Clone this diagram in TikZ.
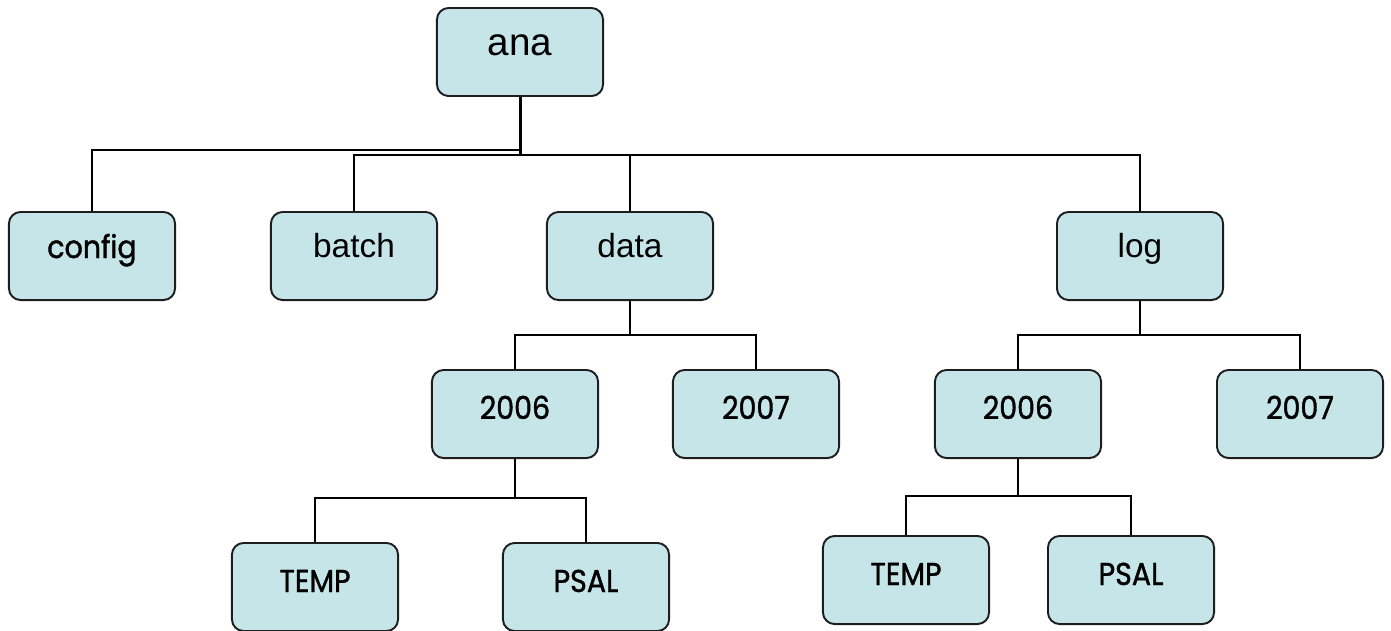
\documentclass[tikz,border=0pt]{standalone}
\usepackage{fontspec}
\setmainfont{Liberation Sans}
\newfontfamily\arialf{Liberation Sans}
\newfontfamily\futf[FakeBold=1.2,FakeStretch=0.9]{Poppins}
\definecolor{boxfill}{RGB}{197,229,232}
\definecolor{boxline}{RGB}{30,30,30}
\begin{document}
\begin{tikzpicture}[x=0.01cm,y=-0.01cm,
  bx/.style={draw=boxline, fill=boxfill, line width=0.55pt, rounded corners=3.3pt,
    minimum width=1.66cm, minimum height=0.88cm, inner sep=0pt, text depth=0pt},
  ar/.style={bx, font=\arialf\fontsize{9.5}{12}\selectfont, text height=0.02cm},
  arbig/.style={bx, font=\arialf\fontsize{11}{13}\selectfont, text height=0.06cm},
  fu/.style={bx, font=\futf\fontsize{9}{11}\selectfont, text height=0.1cm},
  conn/.style={line width=0.55pt, draw=black},
  trunk/.style={line width=0.85pt, draw=black}]
\useasboundingbox (0,0) rectangle (1391,630);
\clip (0,0) rectangle (1391,630);
\node[arbig] (ana) at (520,52) {ana};
\node[fu, text height=0.04cm] (config) at (92,256) {config};
\node[ar] (batch) at (354,256) {batch};
\node[ar] (data) at (630,256) {data};
\node[ar] (log) at (1140,256) {log};
\node[fu] (d06) at (515,414) {2006};
\node[fu] (d07) at (756,414) {2007};
\node[fu] (l06) at (1018,414) {2006};
\node[fu] (l07) at (1300,414) {2007};
\node[fu] (dtemp) at (315,587) {TEMP};
\node[fu] (dpsal) at (586,587) {PSAL};
\node[fu] (ltemp) at (906,580) {TEMP};
\node[fu] (lpsal) at (1131,580) {PSAL};
\coordinate (j1) at (520,155);
\coordinate (j0) at (520,150);
\coordinate (jd) at (630,335);
\coordinate (jl) at (1140,335);
\coordinate (jd6) at (515,498);
\coordinate (jl6) at (1018,496);
% top level
\draw[trunk] (ana.south) -- (j1);
\draw[conn] (j0) -| (config.north);
\draw[conn] (batch.north) |- (j1) -| (log.north);
\draw[conn] (data.north) -- (data.north |- j1);
% data
\draw[conn] (data.south) -- (jd);
\draw[conn] (d06.north) |- (jd) -| (d07.north);
% log
\draw[conn] (log.south) -- (jl);
\draw[conn] (l06.north) |- (jl) -| (l07.north);
% data 2006
\draw[conn] (d06.south) -- (jd6);
\draw[conn] (dtemp.north) |- (jd6) -| (dpsal.north);
% log 2006
\draw[conn] (l06.south) -- (jl6);
\draw[conn] (ltemp.north) |- (jl6) -| (lpsal.north);
\end{tikzpicture}
\end{document}
